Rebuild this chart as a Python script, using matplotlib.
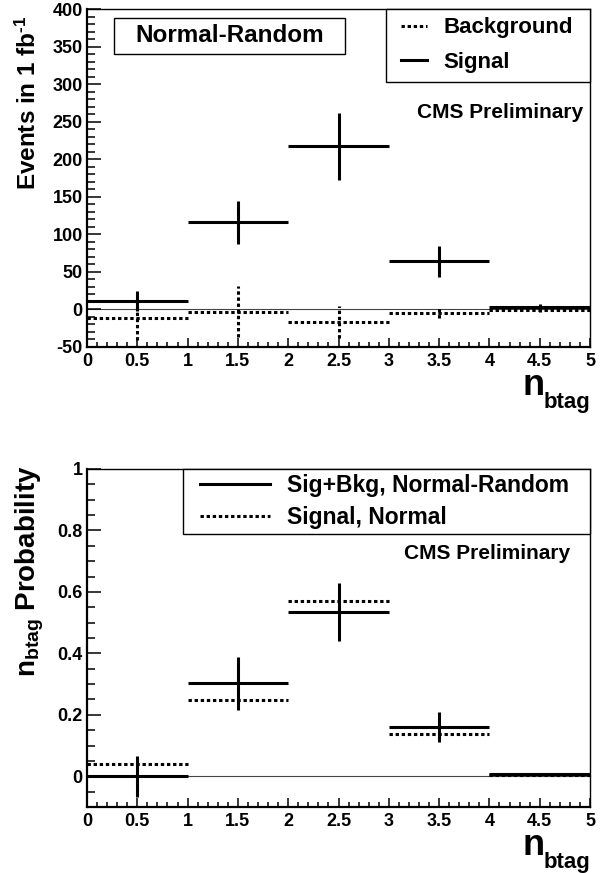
import matplotlib
matplotlib.use("Agg")
import matplotlib.pyplot as plt
import numpy as np
from matplotlib.lines import Line2D
from matplotlib.legend_handler import HandlerLine2D
from matplotlib.patches import Rectangle
from matplotlib.ticker import MultipleLocator, FuncFormatter

plt.rcParams["font.family"] = ["Liberation Sans", "DejaVu Sans"]
plt.rcParams["font.weight"] = "bold"
plt.rcParams["mathtext.fontset"] = "custom"
plt.rcParams["mathtext.rm"] = "Liberation Sans:bold"
plt.rcParams["mathtext.bf"] = "Liberation Sans:bold"
plt.rcParams["mathtext.it"] = "Liberation Sans:bold"

# n_btag bins
bin_centers = [0.5, 1.5, 2.5, 3.5, 4.5]
bin_half = [0.5, 0.5, 0.5, 0.5, 0.5]

# top panel: events in 1 fb^-1 (Normal-Random)
sig_events = [11, 116, 217, 64, 3]
sig_err = [13, 29, 45, 21, 4]
bkg_events = [-12, -3, -17, -5, -1]
bkg_err = [29, 34, 21, 7, 2]

# bottom panel: n_btag probability
prob_sigbkg = [0.0, 0.302, 0.535, 0.160, 0.008]
prob_sigbkg_err = [0.067, 0.086, 0.094, 0.048, 0.004]
prob_sig_normal = [0.040, 0.247, 0.572, 0.136, 0.005]

DOT = (0, (1.1, 0.9))
W, H = 602, 873


def fx(px):
    return px / W


def fy(py):
    return 1 - py / H


def draw_hist(ax, y, err, ls, lw=2.2):
    x = np.array(bin_centers)
    h = np.array(bin_half)
    y = np.array(y, dtype=float)
    ax.hlines(y, x - h, x + h, colors="black", linestyles=[ls], linewidth=lw, zorder=3)
    if err is not None:
        e = np.array(err, dtype=float)
        ax.vlines(x, y - e, y + e, colors="black", linestyles=[ls], linewidth=lw, zorder=3)


def style_axes(ax, ylim, ymaj, ymin):
    ax.set_xlim(0, 5)
    ax.set_ylim(*ylim)
    ax.xaxis.set_major_locator(MultipleLocator(0.5))
    ax.xaxis.set_minor_locator(MultipleLocator(0.1))
    ax.yaxis.set_major_locator(MultipleLocator(ymaj))
    ax.yaxis.set_minor_locator(MultipleLocator(ymin))
    fmt = FuncFormatter(lambda v, p: f"{v:g}")
    ax.xaxis.set_major_formatter(fmt)
    ax.yaxis.set_major_formatter(fmt)
    ax.tick_params(axis="x", which="major", direction="in", length=6.7, width=1.1, pad=4.3, labelsize=13)
    ax.tick_params(axis="x", which="minor", direction="in", length=3.6, width=1.1)
    ax.tick_params(axis="y", which="major", direction="in", length=10, width=1.1, pad=3, labelsize=13)
    ax.tick_params(axis="y", which="minor", direction="in", length=5.4, width=1.1)
    ax.tick_params(top=False, right=False, which="both")
    for s in ["left", "bottom"]:
        ax.spines[s].set_linewidth(1.6)
    for s in ["top", "right"]:
        ax.spines[s].set_linewidth(1.0)
    ax.axhline(0, color="#444444", lw=0.8, zorder=1)


fig = plt.figure(figsize=(6.02, 8.73), dpi=100)
ax1 = fig.add_axes([fx(87), fy(347), fx(590) - fx(87), fy(9) - fy(347)])
ax2 = fig.add_axes([fx(87), fy(807), fx(590) - fx(87), fy(469) - fy(807)])

# top panel
style_axes(ax1, (-50, 400), 50, 10)
draw_hist(ax1, bkg_events, bkg_err, DOT)
draw_hist(ax1, sig_events, sig_err, "solid")

h1 = [Line2D([], [], color="black", lw=2.2, ls=DOT), Line2D([], [], color="black", lw=2.2)]
leg1 = ax1.legend(h1, ["Background", "Signal"], loc="upper left",
                  bbox_to_anchor=((386 - 87) / 503, 0, (590 - 386) / 503, 1.0),
                  mode="expand", borderaxespad=0, fontsize=16, fancybox=False,
                  edgecolor="black", framealpha=1, borderpad=0.38, labelspacing=0.62,
                  handlelength=1.75, handletextpad=0.45,
                  handler_map={Line2D: HandlerLine2D(numpoints=2, marker_pad=0.3)})
leg1.get_frame().set_linewidth(1.0)

fig.patches.append(Rectangle((fx(114), fy(54)), fx(345) - fx(114), fy(18) - fy(54),
                             transform=fig.transFigure, fill=False, lw=1.0, ec="black"))
fig.text(fx(229.5), fy(36), "Normal-Random", ha="center", va="center", fontsize=17.5)
fig.text(fx(583), fy(118), "CMS Preliminary", ha="right", va="baseline", fontsize=15)

fig.text(fx(36), fy(15), r"Events in 1 fb$^{\mathbf{\text{-}1}}$", rotation=90, rotation_mode="anchor",
         ha="right", va="baseline", fontsize=17.5)
fig.text(fx(590), fy(408), "btag", ha="right", va="baseline", fontsize=16)
fig.text(fx(545), fy(395), "n", ha="right", va="baseline", fontsize=26)

# bottom panel
style_axes(ax2, (-0.1, 1.0), 0.2, 0.05)
draw_hist(ax2, prob_sig_normal, None, DOT)
draw_hist(ax2, prob_sigbkg, prob_sigbkg_err, "solid")

h2 = [Line2D([], [], color="black", lw=2.2), Line2D([], [], color="black", lw=2.2, ls=DOT)]
leg2 = ax2.legend(h2, ["Sig+Bkg, Normal-Random", "Signal, Normal"], loc="upper left",
                  bbox_to_anchor=((183 - 87) / 503, 0, (590 - 183) / 503, 1.0),
                  mode="expand", borderaxespad=0, fontsize=16.5, fancybox=False,
                  edgecolor="black", framealpha=1, borderpad=0.22, labelspacing=0.38,
                  handlelength=4.1, handletextpad=0.2,
                  handler_map={Line2D: HandlerLine2D(numpoints=2, marker_pad=0.52)})
leg2.get_frame().set_linewidth(1.0)

fig.text(fx(570), fy(559), "CMS Preliminary", ha="right", va="baseline", fontsize=15)
fig.text(fx(36), fy(465), r"$\mathbf{n_{btag}}$ Probability", rotation=90, rotation_mode="anchor",
         ha="right", va="baseline", fontsize=20)
fig.text(fx(590), fy(868), "btag", ha="right", va="baseline", fontsize=16)
fig.text(fx(545), fy(855), "n", ha="right", va="baseline", fontsize=26)

fig.savefig("out.png", dpi=100)
